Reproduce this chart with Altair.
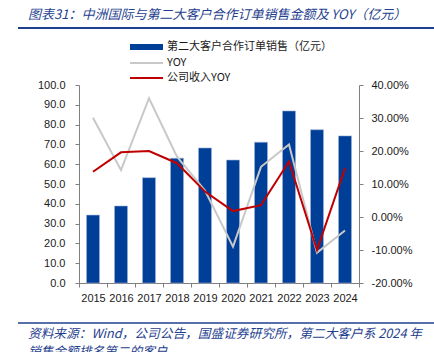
import altair as alt
import pandas as pd

years = ["2015", "2016", "2017", "2018", "2019", "2020", "2021", "2022", "2023", "2024"]
sales = [34.3, 38.9, 53.2, 63.0, 68.2, 62.1, 71.1, 86.9, 77.4, 74.3]
yoy = [0.301, 0.142, 0.360, 0.183, 0.080, -0.090, 0.152, 0.220, -0.108, -0.041]
rev_yoy = [0.137, 0.196, 0.200, 0.163, 0.077, 0.018, 0.036, 0.168, -0.100, 0.148]

bar_name = "第二大客户合作订单销售（亿元）"
s_yoy = "YOY"
s_rev = "公司收入YOY"
title_text = "图表31：中洲国际与第二大客户合作订单销售金额及 YOY（亿元）"
foot1 = "资料来源：Wind，公司公告，国盛证券研究所，第二大客户系 2024 年"
foot2 = "销售金额排名第二的客户"

df = pd.DataFrame({"year": years, "sales": sales})
df_long = pd.DataFrame({
    "year": years * 2,
    "series": [s_yoy] * len(years) + [s_rev] * len(years),
    "value": yoy + rev_yoy,
})

CJK = "Noto Sans CJK SC"
NUM = "Liberation Sans"
BLUE = "#003F98"
TXT_BLUE = "#1f3f8f"

x_enc = alt.X(
    "year:N",
    sort=years,
    scale=alt.Scale(paddingInner=0, paddingOuter=0),
    axis=alt.Axis(title=None, labelAngle=0, tickBand="extent", tickSize=4,
                  labelPadding=5, labelFont=NUM, labelFontSize=11,
                  labelColor="#1a1a1a", domainColor="#808080", tickColor="#808080",
                  grid=False),
)

bars = alt.Chart(df).mark_bar(size=13, color=BLUE, stroke="#9fb3d9", strokeWidth=0.6).encode(
    x=x_enc,
    y=alt.Y("sales:Q", scale=alt.Scale(domain=[0, 100], nice=False),
            axis=alt.Axis(title=None, orient="left", values=list(range(0, 101, 10)),
                          format=".1f", tickSize=4, labelPadding=10, labelFont=NUM,
                          labelFontSize=11, labelColor="#1a1a1a", domainColor="#808080",
                          tickColor="#808080", grid=False)),
)

lines = alt.Chart(df_long).mark_line(strokeWidth=2).encode(
    x=alt.X("year:N", sort=years),
    y=alt.Y("value:Q", scale=alt.Scale(domain=[-0.2, 0.4], nice=False),
            axis=alt.Axis(title=None, orient="right",
                          values=[-0.2, -0.1, 0, 0.1, 0.2, 0.3, 0.4],
                          format=".2%", labelExpr="replace(datum.label, '−', '-')",
                          tickSize=4, labelPadding=8, labelFont=NUM, labelFontSize=11,
                          labelColor="#1a1a1a", domainColor="#808080",
                          tickColor="#808080", grid=False)),
    color=alt.Color("series:N", scale=alt.Scale(domain=[s_yoy, s_rev],
                                                range=["#c8c8c8", "#c00000"]),
                    legend=None),
    order=alt.Order("series:N"),
)

one = pd.DataFrame({"t": [""]})

def text_at(txt, x, y, size, italic=False, color="#1a1a1a", font=CJK):
    d = pd.DataFrame({"t": [txt]})
    kw = dict(align="left", baseline="middle", fontSize=size, color=color, font=font)
    if italic:
        kw["fontStyle"] = "italic"
    return alt.Chart(d).mark_text(**kw).encode(x=alt.value(x), y=alt.value(y), text="t:N")

title = text_at(title_text, -51, -70, 13, italic=True, color=TXT_BLUE)
head_line = alt.Chart(one).mark_rule(color=TXT_BLUE, strokeWidth=2).encode(
    x=alt.value(-61), x2=alt.value(360), y=alt.value(-57))
foot_line = alt.Chart(one).mark_rule(color=TXT_BLUE, strokeWidth=1.5).encode(
    x=alt.value(-61), x2=alt.value(360), y=alt.value(238))
f1 = text_at(foot1, -51, 249, 12.7, italic=True, color=TXT_BLUE)
f2 = text_at(foot2, -51, 267, 12.7, italic=True, color=TXT_BLUE)

leg_rect = alt.Chart(one).mark_rect(color=BLUE).encode(
    x=alt.value(51), x2=alt.value(84), y=alt.value(-41), y2=alt.value(-35))
leg_gray = alt.Chart(one).mark_rule(color="#c8c8c8", strokeWidth=2).encode(
    x=alt.value(51), x2=alt.value(84), y=alt.value(-22))
leg_red = alt.Chart(one).mark_rule(color="#c00000", strokeWidth=2).encode(
    x=alt.value(51), x2=alt.value(84), y=alt.value(-7))
lt1 = text_at(bar_name, 88, -38, 11)
lt2 = text_at(s_yoy, 88, -22, 11)
lt3 = text_at(s_rev, 88, -7, 11)

chart = alt.layer(
    bars, lines, title, head_line, foot_line, f1, f2,
    leg_rect, leg_gray, leg_red, lt1, lt2, lt3,
).resolve_scale(y="independent").properties(
    width=280, height=198,
    autosize=alt.AutoSizeParams(type="none"),
    padding={"left": 79, "top": 85, "right": 75, "bottom": 69},
    background="white",
).configure_view(stroke=None)

chart.save("out.html", embed_options={"renderer": "svg", "actions": False})
